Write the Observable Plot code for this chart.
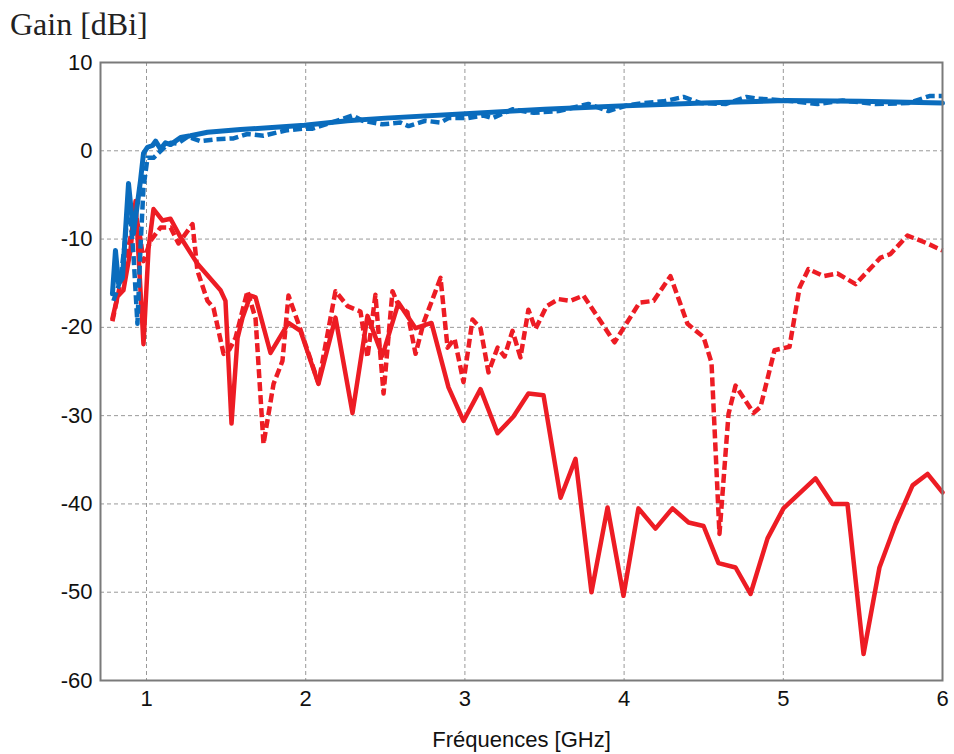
<!DOCTYPE html>
<html>
<head>
<meta charset="utf-8">
<script src="https://cdn.jsdelivr.net/npm/d3@7"></script>
<script src="https://cdn.jsdelivr.net/npm/@observablehq/plot@0.6"></script>
<style>
  html, body { margin: 0; padding: 0; background: #fff; }
  #wrap { position: relative; width: 954px; height: 754px; }
  #title { position: absolute; left: 10px; top: 8px; font-family: "Liberation Serif", serif; font-size: 32px; color: #222; line-height: 1; }
</style>
</head>
<body>
<div id="wrap"><div id="title">Gain [dBi]</div></div>
<script>
const xTicks = [1, 2, 3, 4, 5, 6];
const yTicks = [-60, -50, -40, -30, -20, -10, 0, 10];

// Blue solid
const blueSolidF = [0.786, 0.805, 0.824, 0.849, 0.887, 0.918, 0.962, 0.981, 1.006, 1.038, 1.057, 1.088, 1.119, 1.151, 1.214, 1.276, 1.383, 1.590, 1.992, 2.263, 2.5, 3.004, 3.5, 4.009, 4.5, 5.014, 5.485, 6.0];
const blueSolidG = [-16.2, -11.3, -15.0, -14.4, -3.7, -9.4, -3.4, -0.3, 0.4, 0.6, 1.1, 0.2, 0.9, 0.7, 1.5, 1.7, 2.1, 2.4, 2.9, 3.4, 3.7, 4.2, 4.7, 5.1, 5.4, 5.7, 5.6, 5.4];

// Blue dashed
const blueDashF = [0.792, 0.836, 0.868, 0.887, 0.918, 0.943, 0.962, 0.981, 1.006, 1.044, 1.101, 1.151, 1.195, 1.258, 1.339, 1.433, 1.546, 1.634, 1.735, 1.873, 1.986, 2.043, 2.231, 2.294, 2.357, 2.482, 2.595, 2.646, 2.752, 2.847, 2.897, 3.016, 3.117, 3.173, 3.299, 3.431, 3.588, 3.776, 3.902, 4.009, 4.116, 4.247, 4.373, 4.480, 4.637, 4.769, 4.844, 5.014, 5.215, 5.372, 5.579, 5.786, 5.918, 6.0];
const blueDashG = [-17.0, -14.7, -9.8, -5.0, -11.7, -19.6, -11.0, -4.2, -0.8, -0.8, 0.2, 0.9, 0.8, 1.6, 1.1, 1.3, 1.4, 1.9, 1.7, 2.3, 2.5, 2.5, 3.6, 4.0, 3.4, 3.0, 3.2, 2.8, 3.4, 3.2, 3.7, 3.7, 4.0, 3.7, 4.7, 4.3, 4.5, 5.3, 4.5, 5.1, 5.4, 5.6, 6.1, 5.4, 5.3, 6.1, 5.9, 5.7, 5.3, 5.7, 5.3, 5.4, 6.2, 6.2];

// Red solid
const redSolidF = [0.786, 0.818, 0.855, 0.899, 0.931, 0.981, 1.013, 1.044, 1.101, 1.151, 1.214, 1.320, 1.465, 1.496, 1.534, 1.572, 1.603, 1.653, 1.685, 1.779, 1.892, 1.967, 2.080, 2.187, 2.294, 2.388, 2.482, 2.583, 2.690, 2.790, 2.897, 2.991, 3.098, 3.205, 3.305, 3.399, 3.494, 3.601, 3.695, 3.795, 3.896, 3.996, 4.090, 4.197, 4.304, 4.405, 4.499, 4.593, 4.700, 4.794, 4.901, 5.001, 5.202, 5.309, 5.403, 5.504, 5.604, 5.705, 5.812, 5.906, 6.0];
const redSolidG = [-19.0, -16.5, -15.8, -11.3, -5.7, -21.9, -11.0, -6.6, -7.9, -7.7, -9.8, -12.8, -15.8, -17.0, -30.9, -21.2, -18.9, -16.4, -16.6, -22.9, -19.5, -20.4, -26.4, -18.9, -29.7, -18.7, -23.2, -17.2, -20.1, -19.5, -26.8, -30.6, -27.0, -32.0, -30.1, -27.5, -27.7, -39.3, -34.9, -50.0, -40.4, -50.4, -40.5, -42.8, -40.5, -42.1, -42.5, -46.7, -47.2, -50.2, -43.9, -40.5, -37.1, -40.0, -40.0, -57.0, -47.2, -42.3, -37.9, -36.6, -38.7];

// Red dashed
const redDashF = [0.786, 0.836, 0.874, 0.931, 0.962, 0.981, 1.025, 1.088, 1.151, 1.201, 1.289, 1.320, 1.383, 1.421, 1.484, 1.521, 1.559, 1.634, 1.685, 1.735, 1.798, 1.854, 1.892, 1.955, 2.080, 2.187, 2.263, 2.344, 2.388, 2.438, 2.489, 2.545, 2.583, 2.639, 2.690, 2.740, 2.847, 2.891, 2.935, 2.991, 3.048, 3.098, 3.148, 3.205, 3.249, 3.299, 3.349, 3.399, 3.443, 3.513, 3.588, 3.663, 3.745, 3.940, 4.097, 4.185, 4.291, 4.398, 4.499, 4.549, 4.599, 4.656, 4.700, 4.813, 4.857, 4.945, 5.039, 5.102, 5.158, 5.253, 5.340, 5.454, 5.611, 5.673, 5.780, 5.906, 6.0];
const redDashG = [-19.3, -15.0, -12.0, -7.0, -10.0, -12.5, -10.2, -8.7, -8.7, -10.5, -8.3, -13.6, -17.0, -17.8, -23.0, -22.5, -21.2, -15.9, -19.0, -33.2, -26.4, -23.8, -16.4, -19.6, -26.3, -15.9, -17.6, -18.2, -23.4, -16.3, -27.5, -15.9, -17.5, -18.3, -23.0, -19.5, -14.4, -22.3, -21.3, -26.2, -19.1, -20.1, -25.1, -22.3, -23.3, -20.4, -23.4, -18.0, -20.2, -17.6, -16.8, -17.0, -16.4, -21.7, -17.2, -17.0, -14.2, -19.6, -21.1, -24.0, -43.4, -29.8, -26.6, -29.7, -29.0, -22.6, -22.2, -15.5, -13.4, -14.2, -13.9, -15.1, -12.1, -11.7, -9.6, -10.5, -11.3];

const toRows = (F, G) => F.map((f, i) => ({f, g: G[i]}));
const blueSolid = toRows(blueSolidF, blueSolidG);
const blueDash = toRows(blueDashF, blueDashG);
const redSolid = toRows(redSolidF, redSolidG);
const redDash = toRows(redDashF, redDashG);

const BLUE = "#0a6cbd";
const RED = "#ed1c24";
const fmt = d => String(d);

const chart = Plot.plot({
  width: 954,
  height: 754,
  marginLeft: 100,
  marginRight: 12,
  marginTop: 62,
  marginBottom: 74,
  style: {fontFamily: "'Liberation Sans', Arial, sans-serif", fontSize: "22px", color: "#111", background: "#fff"},
  x: {domain: [0.711, 6], ticks: xTicks},
  y: {domain: [-60, 10], ticks: yTicks},
  marks: [
    Plot.gridX(xTicks, {stroke: "#999", strokeOpacity: 1, strokeDasharray: "4,3", strokeWidth: 1}),
    Plot.gridY(yTicks, {stroke: "#999", strokeOpacity: 1, strokeDasharray: "4,3", strokeWidth: 1}),
    Plot.line(redSolid, {x: "f", y: "g", stroke: RED, strokeWidth: 4.5}),
    Plot.line(redDash, {x: "f", y: "g", stroke: RED, strokeWidth: 4.5, strokeDasharray: "9,4", strokeLinecap: "butt"}),
    Plot.line(blueDash, {x: "f", y: "g", stroke: BLUE, strokeWidth: 4.5, strokeDasharray: "9,4", strokeLinecap: "butt"}),
    Plot.line(blueSolid, {x: "f", y: "g", stroke: BLUE, strokeWidth: 5}),
    Plot.frame({stroke: "#7a7a7a", strokeWidth: 2}),
    Plot.axisY(yTicks, {tickSize: 0, tickPadding: 8, label: null, fontSize: 22, tickFormat: fmt}),
    Plot.axisX(xTicks, {tickSize: 0, tickPadding: 10, label: null, fontSize: 22, tickFormat: fmt}),
    Plot.text(["Fréquences [GHz]"], {frameAnchor: "bottom", dy: 66, fontSize: 22, fill: "#111"})
  ]
});
document.getElementById("wrap").appendChild(chart);
</script>
</body>
</html>
